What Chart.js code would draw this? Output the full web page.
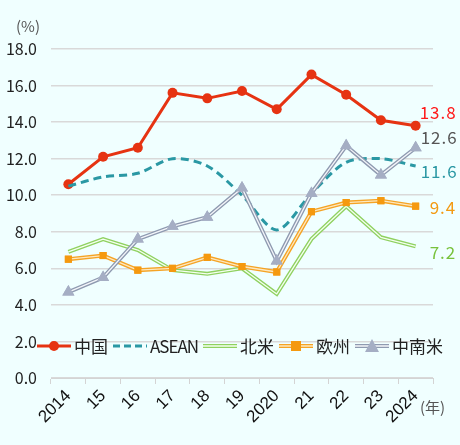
<!DOCTYPE html>
<html>
<head>
<meta charset="utf-8">
<script src="https://cdn.jsdelivr.net/npm/chart.js@4.4.1/dist/chart.umd.min.js"></script>
<style>
	html, body { margin: 0; padding: 0; background: #f0ffff; }
	#wrap { position: relative; width: 460px; height: 445px; overflow: hidden; }
	#unitY { position: absolute; left: 16px; top: 15px; font: 15px "Noto Sans CJK JP"; color: #555; }
	#unitX { position: absolute; left: 420px; top: 396px; font: 15px "Noto Sans CJK JP"; color: #555; }
	#legend { position: absolute; left: 37px; top: 334px; display: flex; align-items: center; font: 17px "Noto Sans CJK JP"; color: #222; white-space: nowrap; }
	#legend span.item { display: flex; align-items: center; margin-right: 5px; }
	#legend span.txt { line-height: 24px; }
	#legend svg { margin-right: 3px; }
</style>
</head>
<body>
<div id="wrap">
	<canvas id="myChart" width="460" height="445"></canvas>
	<div id="unitY">(%)</div>
	<div id="unitX">(年)</div>
	<div id="legend"></div>
</div>
<script>
// データ
const years = ['2014', '15', '16', '17', '18', '19', '2020', '21', '22', '23', '2024'];
const china = [10.6, 12.1, 12.6, 15.6, 15.3, 15.7, 14.7, 16.6, 15.5, 14.1, 13.8];
const asean = [10.5, 11.0, 11.2, 12.0, 11.6, 10.0, 8.1, 10.1, 11.8, 12.0, 11.6];
const northAmerica = [6.9, 7.6, 7.0, 5.9, 5.7, 6.0, 4.6, 7.6, 9.4, 7.7, 7.2];
const europe = [6.5, 6.7, 5.9, 6.0, 6.6, 6.1, 5.8, 9.1, 9.6, 9.7, 9.4];
const latinAmerica = [4.7, 5.5, 7.6, 8.3, 8.8, 10.4, 6.4, 10.1, 12.7, 11.1, 12.6];

const yMin = 0, yMax = 18, yStep = 2;

const series = [
	{ label: '中国', data: china, color: '#e63312', labelColor: '#ff1a1a', point: 'circle', radius: 5, lx: 4, ly: -13 },
	{ label: 'ASEAN', data: asean, color: '#2a98a4', labelColor: '#2a98a4', dash: [8, 5], point: false, lx: 5, ly: 6 },
	{ label: '北米', data: northAmerica, color: '#8fd160', inner: '#f4fff0', labelColor: '#78c23c', point: false, lx: 14, ly: 6 },
	{ label: '欧州', data: europe, color: '#f5a325', inner: '#fde8bf', labelColor: '#f39a12', point: 'rect', pointColor: '#f5990f', radius: 5, lx: 14, ly: 1 },
	{ label: '中南米', data: latinAmerica, color: '#8e9ab0', inner: '#f4f6fa', labelColor: '#555555', point: 'triangle', pointColor: '#a5aec4', radius: 7, lx: 5, ly: -10 }
];

// 二重線
const doubleLinePlugin = {
	id: 'doubleLine',
	afterDatasetDraw(chart, args) {
		const ds = chart.data.datasets[args.index];
		if (!ds.inner) return;
		const ctx = chart.ctx;
		const pts = args.meta.data;
		ctx.save();
		ctx.strokeStyle = ds.inner;
		ctx.lineWidth = 1.3;
		ctx.lineJoin = 'round';
		ctx.beginPath();
		pts.forEach((p, i) => i === 0 ? ctx.moveTo(p.x, p.y) : ctx.lineTo(p.x, p.y));
		ctx.stroke();
		pts.forEach(p => p.draw(ctx, chart.chartArea));
		ctx.restore();
	}
};

// 右端の数値
const endLabelPlugin = {
	id: 'endLabel',
	afterDatasetsDraw(chart) {
		const ctx = chart.ctx;
		ctx.save();
		ctx.font = '17px "Noto Sans CJK JP"';
		ctx.letterSpacing = '1px';
		ctx.textBaseline = 'middle';
		chart.data.datasets.forEach((ds, i) => {
			const meta = chart.getDatasetMeta(i);
			const last = meta.data[meta.data.length - 1];
			const v = ds.data[ds.data.length - 1];
			ctx.fillStyle = ds.labelColor;
			ctx.fillText(v.toFixed(1), last.x + ds.lx, last.y + ds.ly);
		});
		ctx.restore();
	}
};

const ctx = document.getElementById('myChart').getContext('2d');
const myChart = new Chart(ctx, {
	type: 'line',
	data: {
		labels: years,
		datasets: series.map(s => ({
			label: s.label,
			data: s.data,
			borderColor: s.color,
			borderWidth: s.inner ? 4 : 3,
			borderDash: s.dash || [],
			inner: s.inner,
			labelColor: s.labelColor,
			lx: s.lx,
			ly: s.ly,
			pointStyle: s.point,
			pointRadius: s.point ? s.radius : 0,
			pointBackgroundColor: s.pointColor || s.color,
			pointBorderColor: s.pointColor || s.color,
			pointBorderWidth: 0,
			tension: s.label === 'ASEAN' ? 0.3 : 0,
			fill: false
		})).reverse()
	},
	options: {
		responsive: false,
		animation: false,
		layout: { padding: { left: 0, right: 27, top: 49, bottom: 0 } },
		plugins: {
			legend: { display: false },
			tooltip: { enabled: false }
		},
		scales: {
			x: {
				offset: true,
				grid: { offset: true, drawOnChartArea: false, color: '#d4d4d4', tickLength: 6 },
				border: { color: '#d4d4d4' },
				ticks: {
					minRotation: 45,
					maxRotation: 45,
					padding: 2,
					color: '#111',
					font: { family: '"Liberation Sans"', size: 17 }
				},
				afterFit: function (scale) { scale.height = 67; }
			},
			y: {
				min: yMin,
				max: yMax,
				grid: { color: '#d9d9d9', drawTicks: false, lineWidth: 1.5 },
				border: { display: false },
				ticks: {
					stepSize: yStep,
					padding: 14,
					color: '#222',
					font: { family: '"Noto Sans CJK JP"', size: 16 },
					callback: v => v.toFixed(1)
				},
				afterFit: function (scale) { scale.width = 51; }
			}
		}
	},
	plugins: [doubleLinePlugin, endLabelPlugin]
});

// 凡例
const legendEl = document.getElementById('legend');
series.forEach(s => {
	let svg = '<svg width="34" height="14">';
	if (s.inner) {
		svg += `<line x1="0" y1="7" x2="34" y2="7" stroke="${s.color}" stroke-width="4"/>`;
		svg += `<line x1="0" y1="7" x2="34" y2="7" stroke="${s.inner}" stroke-width="1.3"/>`;
	} else {
		svg += `<line x1="0" y1="7" x2="34" y2="7" stroke="${s.color}" stroke-width="3" ${s.dash ? 'stroke-dasharray="7,4"' : ''}/>`;
	}
	const pc = s.pointColor || s.color;
	if (s.point === 'circle') svg += `<circle cx="17" cy="7" r="5" fill="${pc}"/>`;
	if (s.point === 'rect') svg += `<rect x="12" y="2" width="10" height="10" fill="${pc}"/>`;
	if (s.point === 'triangle') svg += `<polygon points="17,0 24,13 10,13" fill="${pc}"/>`;
	svg += '</svg>';
	const item = document.createElement('span');
	item.className = 'item';
	const style = s.label === 'ASEAN' ? ' style="letter-spacing:-1px"' : '';
	item.innerHTML = svg + '<span class="txt"' + style + '>' + s.label + '</span>';
	legendEl.appendChild(item);
});
</script>
</body>
</html>
